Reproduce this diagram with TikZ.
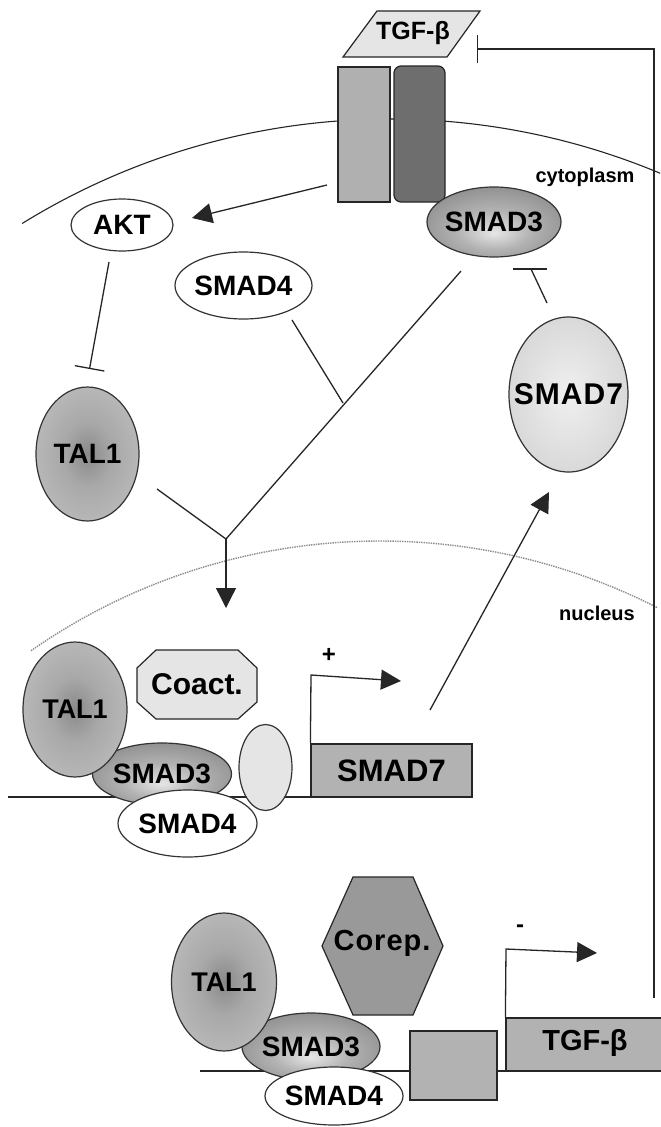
\documentclass[tikz,border=0pt]{standalone}
\usepackage{fontspec}
\setmainfont{Liberation Sans}
\usetikzlibrary{shapes.geometric,arrows.meta}
\pgfdeclareradialshading{shsmadiii}{\pgfpoint{0bp}{-8bp}}{color(0bp)=(black!10); color(14bp)=(black!30); color(50bp)=(black!62)}
\pgfdeclareradialshading{shtal}{\pgfpoint{0bp}{0bp}}{color(0bp)=(black!46); color(12bp)=(black!34); color(30bp)=(black!26); color(50bp)=(black!21)}
\pgfdeclareradialshading{shsmadvii}{\pgfpoint{0bp}{0bp}}{color(0bp)=(black!6); color(50bp)=(black!24)}
\newcommand{\zw}[1]{\makebox[0pt]{#1}}
\tikzset{
  lbl/.style={font=\bfseries\fontsize{28}{30}\selectfont, inner sep=0pt},
  ell/.style={ellipse, draw=black!80, line width=1.2pt, inner sep=0pt, font=\bfseries\fontsize{28}{30}\selectfont},
  ln/.style={line width=1.3pt, draw=black!85},
  arr/.style={ln, -{Triangle[length=20pt,width=20pt]}},
  inh/.style={ln, -{Bar[width=30pt,line width=1.3pt]}},
  boxfill/.style={draw=black!85, line width=1.2pt, fill=black!30},
}
\begin{document}
\begin{tikzpicture}[x=1pt,y=1pt]
\useasboundingbox (0,0) rectangle (661,-1127);
\fill[white] (0,0) rectangle (661,-1127);

% membrane
\draw[ln, line width=1.1pt] ([shift={(121.7:700pt)}]390,-819) arc[start angle=121.7, end angle=67.3, radius=700pt];
% nuclear envelope
\draw[black!45, densely dotted, line width=1.4pt] ([shift={(124.9:610pt)}]380,-1151) arc[start angle=124.9, end angle=63.0, radius=610pt];

% ligand
\draw[draw=black!85, line width=1.2pt, fill=black!10] (377,-11) -- (480,-11) -- (447,-57) -- (343,-57) -- cycle;
\node[lbl, font=\bfseries\fontsize{25}{27}\selectfont] (tgf) at (413,-33) {TGF-β};

% receptors
\node[draw=black!85, line width=1.2pt, fill=black!31, minimum width=52pt, minimum height=135pt, inner sep=0pt] (recl) at (364,-134.5) {};
\node[draw=black!85, line width=1.2pt, fill=black!57, rounded corners=7pt, minimum width=51pt, minimum height=136pt, inner sep=0pt] (recr) at (419.5,-134) {};

\node[lbl, font=\bfseries\fontsize{20}{22}\selectfont] (cyto) at (585,-177) {cytoplasm};
\node[lbl, font=\bfseries\fontsize{20}{22}\selectfont] (nucl) at (597,-613) {nucleus};

% cytoplasm proteins
\node[ell, shade, shading=shsmadiii, minimum width=134pt, minimum height=70pt] (s3top) at (494,-222) {\zw{SMAD3}};
\node[ell, fill=white, minimum width=102pt, minimum height=52pt] (akt) at (122,-225) {\zw{AKT}};
\node[ell, fill=white, minimum width=137pt, minimum height=67pt] (s4top) at (243.5,-285.5) {\zw{SMAD4}};
\node[ell, shade, shading=shtal, minimum width=103pt, minimum height=134pt] (tal1top) at (87.5,-454) {\zw{TAL1}};
\node[ell, shade, shading=shsmadvii, minimum width=119pt, minimum height=155pt, font=\bfseries\fontsize{30}{32}\selectfont] (s7top) at (568.5,-394.5) {\zw{S\kern1pt M\kern1pt A\kern1pt D\kern1pt 7}};

% connector ends
\coordinate (aktsrc) at (327,-185);
\coordinate (akttip) at (192,-218);
\coordinate (aktout) at (109,-262);
\coordinate (talbar) at (89.5,-369);
\coordinate (s4out) at (292,-320);
\coordinate (s4join) at (343,-403);
\coordinate (s3out) at (461,-271);
\coordinate (talout) at (157,-489);
\coordinate (junc) at (226,-539);
\coordinate (nuctip) at (226,-608);
\coordinate (s7out) at (547,-303);
\coordinate (s3bar) at (531,-269);
\coordinate (geneout) at (430,-710);
\coordinate (s7tip) at (549,-492);

\draw[arr] (aktsrc) -- (akttip);
\draw[inh] (aktout) -- (talbar);
\draw[ln] (s4out) -- (s4join);
\draw[ln] (s3out) -- (junc);
\draw[ln] (talout) -- (junc);
\draw[arr] (junc) -- (nuctip);
\draw[ln] (s7out) -- (s3bar);
\draw[ln] ([xshift=-18pt]s3bar) -- ([xshift=16pt]s3bar);
\draw[arr] (geneout) -- (s7tip);

% feedback inhibition
\coordinate (fbstart) at (654,-998);
\coordinate (fbbar) at (477,-49);
\draw[inh, -{Bar[width=28pt,line width=1.3pt]}] (fbstart) |- (fbbar);

% ===== nucleus block 1 (SMAD7 gene) =====
\draw[ln, line width=1.1pt] (8,-797) -- (311,-797);
\node[ell, shade, shading=shsmadiii, minimum width=139pt, minimum height=62pt] (s3a) at (162,-774) {\zw{SMAD3}};
\node[ell, shade, shading=shtal, minimum width=104pt, minimum height=135pt, font=\bfseries\fontsize{27}{29}\selectfont] (tal1a) at (75,-709.5) {\zw{TAL1}};
\node[ell, fill=white, minimum width=139pt, minimum height=67pt] (s4a) at (187.5,-823.5) {\zw{SMAD4}};
\node[ell, fill=black!10, minimum width=53pt, minimum height=86pt] (sma) at (265.5,-767.5) {};
\draw[draw=black!85, line width=1.2pt, fill=black!10] (156,-650) -- (238,-650) -- (257,-668) -- (257,-702) -- (238,-719) -- (156,-719) -- (137,-702) -- (137,-668) -- cycle;
\node[lbl, font=\bfseries\fontsize{30}{32}\selectfont] (coact) at (197,-684) {Coact.};
\node[boxfill, minimum width=161pt, minimum height=53pt, inner sep=0pt, font=\bfseries\fontsize{31}{33}\selectfont] (g7) at (391.5,-770.5) {SMAD7};
\coordinate (p7a) at (311,-675);
\coordinate (p7tip) at (401,-681);
\draw[arr] (g7.north west) -- (p7a) -- (p7tip);
\node[lbl, font=\bfseries\fontsize{24}{26}\selectfont] (plus) at (329,-655) {+};

% ===== nucleus block 2 (TGF-beta gene) =====
\draw[ln, line width=1.1pt] (200,-1071) -- (506,-1071);
\node[ell, shade, shading=shsmadiii, minimum width=138pt, minimum height=67pt] (s3b) at (311,-1046.5) {\zw{SMAD3}};
\node[ell, shade, shading=shtal, minimum width=105pt, minimum height=138pt, font=\bfseries\fontsize{27}{29}\selectfont] (tal1b) at (224,-982) {\zw{TAL1}};
\node[ell, fill=white, minimum width=138pt, minimum height=58pt] (s4b) at (334,-1096) {\zw{SMAD4}};
\node[boxfill, minimum width=87pt, minimum height=69pt, inner sep=0pt] (smb) at (453.5,-1065.5) {};
\draw[draw=black!85, line width=1.2pt, fill=black!40] (322,-946) -- (353,-877) -- (413,-877) -- (443,-946) -- (413,-1015) -- (353,-1015) -- cycle;
\node[lbl, font=\bfseries\fontsize{29}{31}\selectfont] (corep) at (382,-943) {C\kern1pt o\kern1pt r\kern1pt e\kern1pt p\kern1pt .};
\node[boxfill, minimum width=158pt, minimum height=53pt, inner sep=0pt] (gtgf) at (585,-1044.5) {};
\node[lbl, font=\bfseries\fontsize{29}{31}\selectfont] (gtgflbl) at (585,-1043) {TGF-β};
\coordinate (pta) at (506,-949);
\coordinate (pttip) at (597,-953);
\draw[arr] (gtgf.north west) -- (pta) -- (pttip);
\node[lbl, font=\bfseries\fontsize{24}{26}\selectfont] (minus) at (520,-929) {-};
\end{tikzpicture}
\end{document}
